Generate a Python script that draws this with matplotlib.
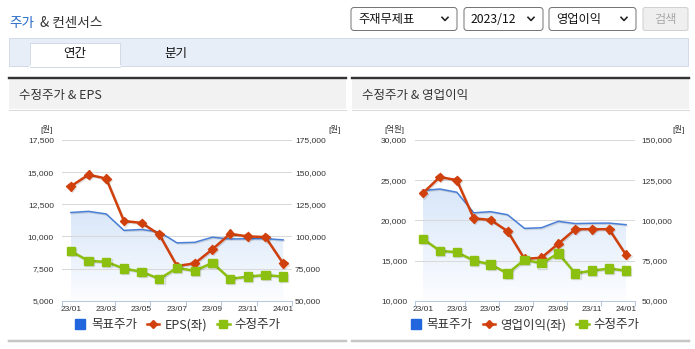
import numpy as np
import matplotlib.pyplot as plt
import matplotlib.patheffects as pe
from matplotlib.patches import Rectangle, FancyBboxPatch, PathPatch
from matplotlib.lines import Line2D
from matplotlib.colors import LinearSegmentedColormap

plt.rcParams['font.family'] = ['Noto Sans CJK KR', 'DejaVu Sans']

# data
months = ['23/01', '23/02', '23/03', '23/04', '23/05', '23/06', '23/07',
          '23/08', '23/09', '23/10', '23/11', '23/12', '24/01']
target_price = [118600, 119500, 117500, 104700, 105400, 103500, 95000,
                95400, 99400, 98000, 98200, 98300, 97300]
adj_price = [88500, 81000, 80200, 75000, 72500, 67000, 75500,
             73300, 79400, 67000, 68700, 70000, 68700]
eps = [13900, 14800, 14500, 11200, 11050, 10150, 7700,
       7900, 9000, 10200, 10000, 9950, 7900]
op_income = [23400, 25400, 25000, 20250, 20050, 18650, 15200,
             15350, 17100, 18900, 18900, 18900, 15700]

eps_ticks = [5000, 7500, 10000, 12500, 15000, 17500]
eps_price_ticks = [50000, 75000, 100000, 125000, 150000, 175000]
op_ticks = [10000, 15000, 20000, 25000, 30000]
op_price_ticks = [50000, 75000, 100000, 125000, 150000]

BLUE = '#4a7fd8'
RED = '#d0400c'
GREEN = '#8cc010'
PX = 0.72  # points per pixel

W, H = 695, 349
fig = plt.figure(figsize=(W / 100, H / 100), dpi=100)

# page decoration layer in pixel coords
ov = fig.add_axes([0, 0, 1, 1])
ov.set_xlim(0, W)
ov.set_ylim(H, 0)
ov.axis('off')

ov.text(9, 22.5, '주가', color='#2a6cc8', fontsize=9.8, va='center')
ov.text(40, 22.5, '& 컨센서스', color='#333333', fontsize=9.8, va='center')


def dropdown(x0, x1, label):
    ov.add_patch(FancyBboxPatch((x0, 7.5), x1 - x0, 23,
                                boxstyle='round,pad=0,rounding_size=3',
                                fc='white', ec='#767676', lw=1 * PX))
    ov.text(x0 + 7, 19.5, label, fontsize=8.8, va='center', color='#111111')
    cx = x1 - 12
    ov.add_line(Line2D([cx - 3, cx, cx + 3], [17.3, 20.5, 17.3],
                       color='#222222', lw=1.6 * PX))


dropdown(351, 457, '주재무제표')
dropdown(464, 543, '2023/12')
dropdown(549, 636, '영업이익')
ov.add_patch(FancyBboxPatch((643, 7.5), 45, 23,
                            boxstyle='round,pad=0,rounding_size=2',
                            fc='#efefef', ec='#d0d0d0', lw=1 * PX))
ov.text(665.5, 19.5, '검색', fontsize=8.8, va='center', ha='center', color='#a8a8a8')

# tab bar
ov.add_patch(Rectangle((9, 37.5), 679, 28.5, fc='#e8eef8', ec='#d3dbe8', lw=1 * PX))
ov.add_patch(Rectangle((29.5, 42.5), 90.5, 24, fc='white', ec='#d3dbe8', lw=1 * PX))
ov.add_line(Line2D([30, 119.5], [66, 66], color='white', lw=1.5 * PX))
ov.text(74.5, 53, '연간', fontsize=9, ha='center', va='center', color='#111111')
ov.text(176, 53, '분기', fontsize=9, ha='center', va='center', color='#111111')

# panel frames
for x0, x1, title in [(9, 346, '수정주가 & EPS'), (352, 689, '수정주가 & 영업이익')]:
    ov.add_patch(Rectangle((x0, 79), x1 - x0, 30, fc='#f2f2f2', ec='none'))
    ov.add_line(Line2D([x0, x1], [78, 78], color='#333333', lw=2.4 * PX))
    ov.add_line(Line2D([x0, x1], [109.5, 109.5], color='#dadada', lw=1 * PX))
    ov.add_line(Line2D([x0, x1], [340.5, 340.5], color='#c6c6c6', lw=2.5 * PX))
    ov.text(x0 + 10, 95, title, fontsize=9, va='center', color='#333333')

shadow = [pe.SimpleLineShadow(offset=(0.8, -0.8), shadow_color='#000000', alpha=0.12),
          pe.Normal()]
tick_font = {'family': ['Liberation Sans', 'Noto Sans CJK KR'], 'size': 6}


def draw_chart(x0, x1, left_vals, left_name, left_ticks, right_ticks,
               left_unit, unit_l_x, unit_r_x, left_pad, right_pad):
    y_top, y_bot = 140, 300.7
    rect = [x0 / W, (H - y_bot) / H, (x1 - x0) / W, (y_bot - y_top) / H]
    xs = np.arange(len(months))
    llim = (left_ticks[0], left_ticks[-1])
    rlim = (right_ticks[0], right_ticks[-1])

    ax = fig.add_axes(rect)
    axr = ax.twinx()
    axe = ax.twinx()
    axg = ax.twinx()
    ax.set_zorder(5)
    axr.set_zorder(1)
    axe.set_zorder(2)
    axg.set_zorder(3)
    ax.patch.set_visible(False)

    # target price with gradient area
    poly = axr.fill_between(xs, target_price, rlim[0], facecolor='none', edgecolor='none')
    clip = PathPatch(poly.get_paths()[0], transform=axr.transData,
                     facecolor='none', edgecolor='none')
    axr.add_patch(clip)
    cmap = LinearSegmentedColormap.from_list('fill', ['#fcfdff', '#d9e7f9'])
    grad = np.linspace(0, 1, 256).reshape(-1, 1)
    im = axr.imshow(grad, extent=[xs[0], xs[-1], rlim[0], max(target_price)],
                    origin='lower', aspect='auto', cmap=cmap, zorder=0.2)
    im.set_clip_path(clip)
    axr.plot(xs, target_price, color=BLUE, lw=1.1, zorder=2, path_effects=shadow)
    axr.set_yticks(right_ticks)
    axr.grid(axis='y', color='#d9d9d9', lw=0.75)
    axr.set_axisbelow(True)

    axe.plot(xs, left_vals, color=RED, lw=1.8, marker='D', ms=4.5, mec=RED,
             path_effects=shadow)
    axg.plot(xs, adj_price, color=GREEN, lw=1.8, marker='s', ms=6, mec=GREEN,
             path_effects=shadow)

    for a, lim in [(ax, llim), (axr, rlim), (axe, llim), (axg, rlim)]:
        a.set_xlim(-0.5, len(months) - 0.5)
        a.set_ylim(*lim)
        for s in a.spines.values():
            s.set_visible(False)
    for a in (axe, axg):
        a.set_yticks([])

    ax.spines['bottom'].set_visible(True)
    ax.spines['bottom'].set_color('#b8c8dc')
    ax.spines['bottom'].set_linewidth(1 * PX)
    ax.set_yticks(left_ticks)
    ax.set_yticklabels([f'{v:,}' for v in left_ticks], fontdict=tick_font, color='#333333')
    ax.tick_params(axis='y', length=0, pad=left_pad)
    axr.set_yticklabels([f'{v:,}' for v in right_ticks], fontdict=tick_font, color='#333333')
    axr.tick_params(axis='y', length=0, pad=right_pad)

    ax.set_xticks(xs[::2])
    ax.set_xticklabels(months[::2], fontdict=tick_font, color='#333333')
    ax.set_xticks(np.r_[-0.5, np.arange(2.5, len(months), 2)], minor=True)
    ax.tick_params(axis='x', which='major', length=0, pad=4)
    ax.tick_params(axis='x', which='minor', length=3.6, width=0.75, color='#b8c8dc')

    ov.text(unit_l_x, 130, left_unit, ha='center', va='center', fontsize=6,
            family=['Liberation Sans', 'Noto Sans CJK KR'], color='#333333')
    ov.text(unit_r_x, 130, '[원]', ha='center', va='center', fontsize=6,
            family=['Liberation Sans', 'Noto Sans CJK KR'], color='#333333')

    handles = [Line2D([], [], color='#2266dd', marker='s', ms=6.5, lw=0),
               Line2D([], [], color=RED, marker='D', ms=4, lw=1.8),
               Line2D([], [], color=GREEN, marker='s', ms=5.5, lw=1.8)]
    ax.legend(handles, ['목표주가', left_name, '수정주가'], loc='center',
              bbox_to_anchor=(0.5, -0.151), ncol=3, frameon=False, fontsize=9,
              handlelength=1.0, handletextpad=0.4, columnspacing=0.8,
              labelcolor='#333333')


draw_chart(62, 292, eps, 'EPS(좌)', eps_ticks, eps_price_ticks,
           '[원]', 47, 335, 5.8, 2.2)
draw_chart(414.5, 634.5, op_income, '영업이익(좌)', op_ticks, op_price_ticks,
           '[억원]', 394, 679, 5.4, 5.2)

fig.savefig('out.png', dpi=100)
